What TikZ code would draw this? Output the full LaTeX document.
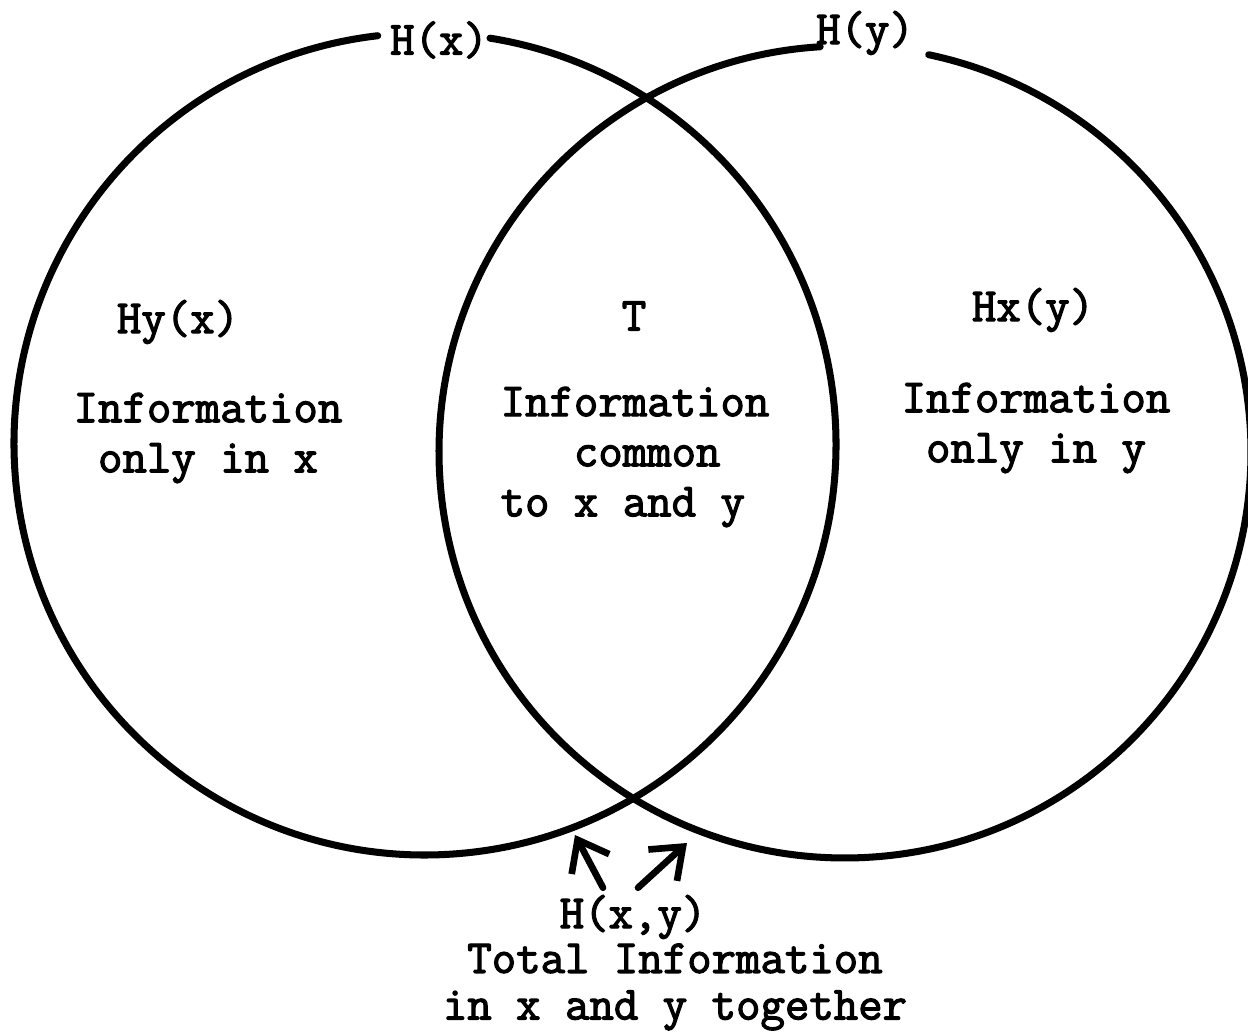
\documentclass[tikz,border=0pt]{standalone}
\usepackage{fontspec}
\usepackage{tikz}
\usetikzlibrary{calc,arrows.meta,positioning}
\newfontfamily\typew[FakeBold=2.5]{Latin Modern Mono}
\tikzset{
  ring/.style={line width=4pt,black,line cap=round},
  ar/.style={-{Straight Barb[length=5.5mm,width=8.5mm]},line width=3.8pt,line cap=round},
  lbl/.style={font=\typew\fontsize{27}{28.5}\selectfont,align=center,inner sep=1pt}
}
\begin{document}
\begin{tikzpicture}[x=0.02cm,y=0.02cm]
\useasboundingbox (0,0) rectangle (1248,1033);
\coordinate (L) at (425,589); \coordinate (R) at (845,581);
% the two circles, broken at the top labels
\draw[ring] (L) ++(96.6:411) arc[start angle=96.6,end angle=440.9,radius=411];
\draw[ring] (R) ++(93.5:406) arc[start angle=93.5,end angle=438.1,radius=406];
\node[lbl] (hx) at (439,993) {H(x)};
\node[lbl] (hy) at (865,1000) {H(y)};
\node[lbl] (hyx) at (178,711) {Hy(x)};
\node[lbl] (onlyx) at (208,595) {Information\\only in x};
\node[lbl] (t) at (634,717) {T};
\node[lbl,align=left] (common) at (635,576) {Information\\\phantom{xxx}common\\to x and y};
\node[lbl] (hxy2) at (1033,723) {Hx(y)};
\node[lbl] (onlyy) at (1036,605) {Information\\only in y};
\node[lbl] (hxyj) at (633,116) {H(x,y)};
\node[lbl,font=\typew\fontsize{27}{26.5}\selectfont] (total) at (675,46) {Total Information\\in x and y together};
\coordinate (tipL) at (575,198); \coordinate (tipR) at (687,190);
\draw[ar] ([xshift=-0.6cm,yshift=3pt]hxyj.north) -- (tipL);
\draw[ar] ([xshift=0.1cm,yshift=3pt]hxyj.north) -- (tipR);
\end{tikzpicture}
\end{document}
